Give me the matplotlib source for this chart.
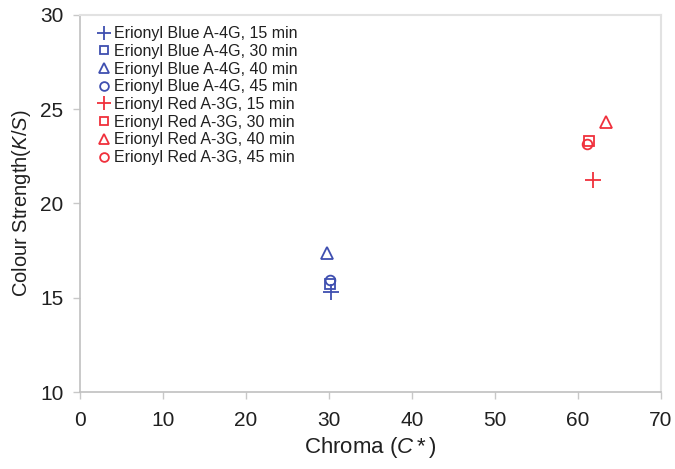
import matplotlib
matplotlib.use('Agg')
import matplotlib.pyplot as plt

plt.rcParams['font.family'] = ['Liberation Sans', 'DejaVu Sans']
plt.rcParams['mathtext.fontset'] = 'custom'
plt.rcParams['mathtext.rm'] = 'Liberation Sans'
plt.rcParams['mathtext.it'] = 'Liberation Sans:italic'

blue_labels = ['Erionyl Blue A-4G, 15 min', 'Erionyl Blue A-4G, 30 min',
               'Erionyl Blue A-4G, 40 min', 'Erionyl Blue A-4G, 45 min']
red_labels = ['Erionyl Red A-3G, 15 min', 'Erionyl Red A-3G, 30 min',
              'Erionyl Red A-3G, 40 min', 'Erionyl Red A-3G, 45 min']

blue_chroma = [30.3, 30.1, 29.8, 30.1]
blue_ks = [15.3, 15.75, 17.35, 15.95]
red_chroma = [61.8, 61.3, 63.4, 61.1]
red_ks = [21.25, 23.3, 24.3, 23.15]

markers = ['+', 's', '^', 'o']
msizes = [11, 7, 8, 7]
blue = '#3f4fb0'
red = '#f0303c'

fig = plt.figure(figsize=(6.75, 4.69), dpi=100)
ax = fig.add_axes([80 / 675, 1 - 392 / 469, 581 / 675, 377 / 469])

for i in range(4):
    ax.plot(blue_chroma[i], blue_ks[i], linestyle='none', marker=markers[i],
            markersize=msizes[i], mfc='none', mec=blue, mew=1.3, label=blue_labels[i])
for i in range(4):
    ax.plot(red_chroma[i], red_ks[i], linestyle='none', marker=markers[i],
            markersize=msizes[i], mfc='none', mec=red, mew=1.3, label=red_labels[i])

ax.set_xlim(0, 70)
ax.set_ylim(10, 30)
ax.set_xticks(range(0, 71, 10))
ax.set_yticks(range(10, 31, 5))
ax.tick_params(direction='out', length=5, width=1, color='#c8c8c8',
               labelsize=15, labelcolor='#202020')
ax.tick_params(axis='x', pad=9)
ax.tick_params(axis='y', pad=7)

for side in ['left', 'bottom']:
    ax.spines[side].set_color('#c0c0c0')
    ax.spines[side].set_linewidth(1.2)
for side in ['top', 'right']:
    ax.spines[side].set_color('#e2e2e2')
    ax.spines[side].set_linewidth(1.5)

ax.set_xlabel('Chroma ($\\mathit{C*}$)', fontsize=16, color='#202020', labelpad=3)
ax.set_ylabel('Colour Strength($\\mathit{K/S}$)', fontsize=14.5, color='#202020', labelpad=5)

leg = ax.legend(loc='upper left', frameon=False, fontsize=11.5, handlelength=0.6,
                handletextpad=0.3, labelspacing=0.17, borderaxespad=0.3,
                bbox_to_anchor=(0.014, 1.0), labelcolor='#202020', markerscale=0.9)

fig.savefig('out.png', dpi=100)
